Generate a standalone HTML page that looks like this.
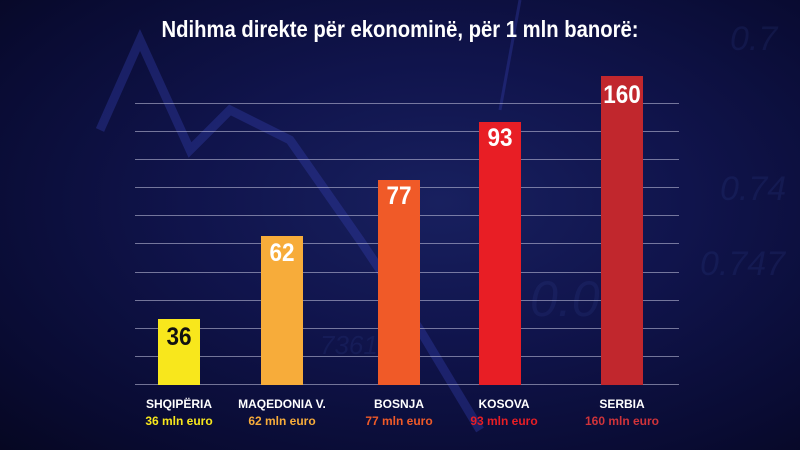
<!DOCTYPE html>
<html><head><meta charset="utf-8"><style>
*{margin:0;padding:0}
body{width:800px;height:450px;overflow:hidden;position:relative;font-family:"Liberation Sans Narrow","Liberation Sans",sans-serif;
background:radial-gradient(ellipse at 55% 45%,#18205f 0%,#10144c 40%,#090b32 80%,#060722 100%);}
.t{position:absolute;color:#fff;font-weight:bold;white-space:nowrap}
.g{position:absolute;left:135px;width:544px;height:1px;background:rgba(200,200,225,0.55)}
.b{position:absolute;width:42px}
.v{position:absolute;width:80px;text-align:center;font-weight:bold;font-size:25px;color:#fff;transform:scaleX(0.9)}
.n{position:absolute;width:140px;text-align:center;font-weight:bold;font-size:12px;color:#fff}
.m{position:absolute;width:140px;text-align:center;font-weight:bold;font-size:12px}
.bg{position:absolute;color:rgba(60,80,170,0.15);font-style:italic;font-size:34px;font-family:"Liberation Sans",sans-serif}
</style></head><body>
<svg style="position:absolute;left:0;top:0" width="800" height="450">
<polyline points="100,130 140,40 190,150 230,110 290,140 360,240 420,330 480,430" fill="none" stroke="rgba(55,65,180,0.35)" stroke-width="9"/>
<line x1="520" y1="0" x2="500" y2="110" stroke="rgba(60,70,190,0.3)" stroke-width="3"/>
</svg>
<div class="bg" style="left:730px;top:20px">0.7</div>
<div class="bg" style="left:720px;top:170px">0.74</div>
<div class="bg" style="left:700px;top:245px">0.747</div>
<div class="bg" style="left:530px;top:270px;font-size:50px">0.00</div>
<div class="bg" style="left:320px;top:330px;font-size:26px">73615</div>
<div class="t" style="left:0;width:800px;text-align:center;top:16px;font-size:23px;transform:scaleX(0.88)">Ndihma direkte për ekonominë, për 1 mln banorë:</div>
<div class="g" style="top:103px"></div><div class="g" style="top:131px"></div><div class="g" style="top:159px"></div>
<div class="g" style="top:187px"></div><div class="g" style="top:215px"></div><div class="g" style="top:243px"></div>
<div class="g" style="top:272px"></div><div class="g" style="top:300px"></div><div class="g" style="top:328px"></div>
<div class="g" style="top:356px"></div><div class="g" style="top:384px"></div>
<div class="b" style="left:158px;top:319px;height:66px;background:#f8e71c"></div>
<div class="b" style="left:261px;top:236px;height:149px;background:#f7ac3a"></div>
<div class="b" style="left:378px;top:180px;height:205px;background:#f05a28"></div>
<div class="b" style="left:479px;top:122px;height:263px;background:#e81e25"></div>
<div class="b" style="left:601px;top:76px;height:309px;background:#c1272d"></div>
<div class="v" style="left:139px;top:323px;color:#111">36</div>
<div class="v" style="left:242px;top:239px">62</div>
<div class="v" style="left:359px;top:182px">77</div>
<div class="v" style="left:460px;top:124px">93</div>
<div class="v" style="left:582px;top:81px">160</div>
<div class="n" style="left:109px;top:397px">SHQIPËRIA</div>
<div class="m" style="left:109px;top:414px;color:#f8e71c">36 mln euro</div>
<div class="n" style="left:212px;top:397px">MAQEDONIA V.</div>
<div class="m" style="left:212px;top:414px;color:#f7ac3a">62 mln euro</div>
<div class="n" style="left:329px;top:397px">BOSNJA</div>
<div class="m" style="left:329px;top:414px;color:#f05a28">77 mln euro</div>
<div class="n" style="left:434px;top:397px">KOSOVA</div>
<div class="m" style="left:434px;top:414px;color:#e81e25">93 mln euro</div>
<div class="n" style="left:552px;top:397px">SERBIA</div>
<div class="m" style="left:552px;top:414px;color:#d0333a">160 mln euro</div>
</body></html>
